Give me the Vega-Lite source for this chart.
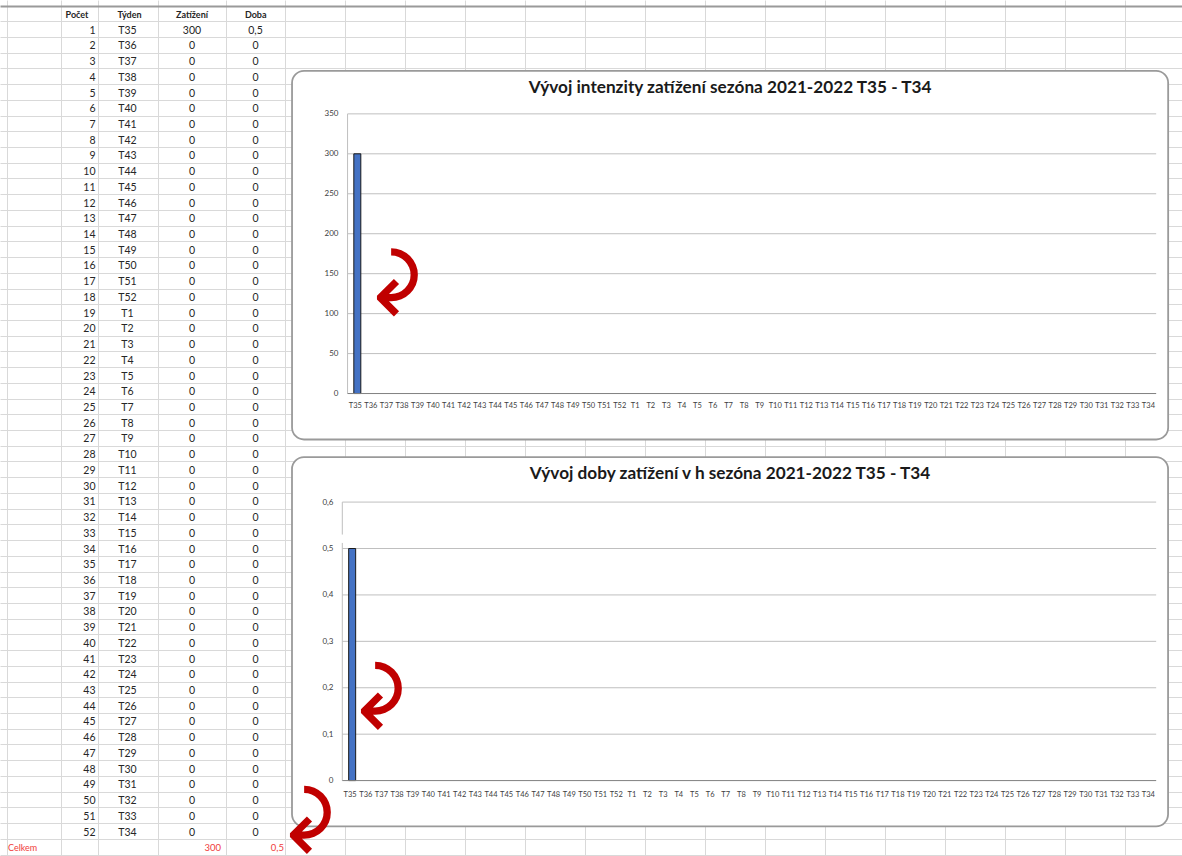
{
  "$schema": "https://vega.github.io/schema/vega-lite/v6.json",
  "width": 1182,
  "height": 856,
  "autosize": {"type": "fit", "contains": "padding"},
  "padding": 0,
  "background": "white",
  "config": {
    "view": {"stroke": null},
    "locale": {"number": {"decimal": ",", "thousands": " ", "grouping": [3], "currency": ["", " Kč"]}},
    "text": {"font": "Lato"}
  },
  "datasets": {
    "weeks": [
      {"i": 1, "tyden": "T35", "zat": 300, "doba": 0.5},
      {"i": 2, "tyden": "T36", "zat": 0, "doba": 0},
      {"i": 3, "tyden": "T37", "zat": 0, "doba": 0},
      {"i": 4, "tyden": "T38", "zat": 0, "doba": 0},
      {"i": 5, "tyden": "T39", "zat": 0, "doba": 0},
      {"i": 6, "tyden": "T40", "zat": 0, "doba": 0},
      {"i": 7, "tyden": "T41", "zat": 0, "doba": 0},
      {"i": 8, "tyden": "T42", "zat": 0, "doba": 0},
      {"i": 9, "tyden": "T43", "zat": 0, "doba": 0},
      {"i": 10, "tyden": "T44", "zat": 0, "doba": 0},
      {"i": 11, "tyden": "T45", "zat": 0, "doba": 0},
      {"i": 12, "tyden": "T46", "zat": 0, "doba": 0},
      {"i": 13, "tyden": "T47", "zat": 0, "doba": 0},
      {"i": 14, "tyden": "T48", "zat": 0, "doba": 0},
      {"i": 15, "tyden": "T49", "zat": 0, "doba": 0},
      {"i": 16, "tyden": "T50", "zat": 0, "doba": 0},
      {"i": 17, "tyden": "T51", "zat": 0, "doba": 0},
      {"i": 18, "tyden": "T52", "zat": 0, "doba": 0},
      {"i": 19, "tyden": "T1", "zat": 0, "doba": 0},
      {"i": 20, "tyden": "T2", "zat": 0, "doba": 0},
      {"i": 21, "tyden": "T3", "zat": 0, "doba": 0},
      {"i": 22, "tyden": "T4", "zat": 0, "doba": 0},
      {"i": 23, "tyden": "T5", "zat": 0, "doba": 0},
      {"i": 24, "tyden": "T6", "zat": 0, "doba": 0},
      {"i": 25, "tyden": "T7", "zat": 0, "doba": 0},
      {"i": 26, "tyden": "T8", "zat": 0, "doba": 0},
      {"i": 27, "tyden": "T9", "zat": 0, "doba": 0},
      {"i": 28, "tyden": "T10", "zat": 0, "doba": 0},
      {"i": 29, "tyden": "T11", "zat": 0, "doba": 0},
      {"i": 30, "tyden": "T12", "zat": 0, "doba": 0},
      {"i": 31, "tyden": "T13", "zat": 0, "doba": 0},
      {"i": 32, "tyden": "T14", "zat": 0, "doba": 0},
      {"i": 33, "tyden": "T15", "zat": 0, "doba": 0},
      {"i": 34, "tyden": "T16", "zat": 0, "doba": 0},
      {"i": 35, "tyden": "T17", "zat": 0, "doba": 0},
      {"i": 36, "tyden": "T18", "zat": 0, "doba": 0},
      {"i": 37, "tyden": "T19", "zat": 0, "doba": 0},
      {"i": 38, "tyden": "T20", "zat": 0, "doba": 0},
      {"i": 39, "tyden": "T21", "zat": 0, "doba": 0},
      {"i": 40, "tyden": "T22", "zat": 0, "doba": 0},
      {"i": 41, "tyden": "T23", "zat": 0, "doba": 0},
      {"i": 42, "tyden": "T24", "zat": 0, "doba": 0},
      {"i": 43, "tyden": "T25", "zat": 0, "doba": 0},
      {"i": 44, "tyden": "T26", "zat": 0, "doba": 0},
      {"i": 45, "tyden": "T27", "zat": 0, "doba": 0},
      {"i": 46, "tyden": "T28", "zat": 0, "doba": 0},
      {"i": 47, "tyden": "T29", "zat": 0, "doba": 0},
      {"i": 48, "tyden": "T30", "zat": 0, "doba": 0},
      {"i": 49, "tyden": "T31", "zat": 0, "doba": 0},
      {"i": 50, "tyden": "T32", "zat": 0, "doba": 0},
      {"i": 51, "tyden": "T33", "zat": 0, "doba": 0},
      {"i": 52, "tyden": "T34", "zat": 0, "doba": 0}
    ]
  },
  "data": {"name": "weeks"},
  "resolve": {"scale": {"x": "independent", "y": "independent"}, "axis": {"x": "independent", "y": "independent"}},
  "layer": [
    {
      "mark": {"type": "text", "align": "right", "baseline": "middle", "fontSize": 10.5, "color": "#262626"},
      "encoding": {
        "x": {"datum": 95.5, "scale": {"domain": [0, 1182], "nice": false, "zero": false},
          "axis": {"orient": "bottom", "values": [7, 61, 98, 158, 226, 285, 345, 405, 465, 525, 585, 645, 705, 765, 825, 885, 945, 1005, 1065, 1125], "grid": true, "gridColor": "#d9d9d9", "gridWidth": 1, "labels": false, "ticks": false, "domain": false, "title": null, "zindex": 0}},
        "y": {"field": "i", "type": "quantitative", "scale": {"domain": [-0.95, 53.43], "reverse": true, "nice": false, "zero": false},
          "axis": {"orient": "left", "values": [-0.6, 0.4, 1.4, 2.4, 3.4, 4.4, 5.4, 6.4, 7.4, 8.4, 9.4, 10.4, 11.4, 12.4, 13.4, 14.4, 15.4, 16.4, 17.4, 18.4, 19.4, 20.4, 21.4, 22.4, 23.4, 24.4, 25.4, 26.4, 27.4, 28.4, 29.4, 30.4, 31.4, 32.4, 33.4, 34.4, 35.4, 36.4, 37.4, 38.4, 39.4, 40.4, 41.4, 42.4, 43.4, 44.4, 45.4, 46.4, 47.4, 48.4, 49.4, 50.4, 51.4, 52.4, 53.4], "grid": true, "gridColor": {"condition": {"test": "datum.value < 0", "value": "#9a9a9a"}, "value": "#d9d9d9"}, "gridWidth": {"condition": {"test": "datum.value < 0", "value": 2}, "value": 1}, "labels": false, "ticks": false, "domain": false, "title": null, "zindex": 0}},
        "text": {"field": "i", "type": "quantitative"}
      }
    },
    {
      "mark": {"type": "text", "align": "center", "baseline": "middle", "fontSize": 10.5, "color": "#262626"},
      "encoding": {
        "x": {"datum": 127.5, "scale": {"domain": [0, 1182], "nice": false, "zero": false}, "axis": null},
        "y": {"field": "i", "type": "quantitative", "scale": {"domain": [-0.95, 53.43], "reverse": true, "nice": false, "zero": false}, "axis": null},
        "text": {"field": "tyden", "type": "nominal"}
      }
    },
    {
      "mark": {"type": "text", "align": "center", "baseline": "middle", "fontSize": 10.5, "color": "#262626"},
      "encoding": {
        "x": {"datum": 192, "scale": {"domain": [0, 1182], "nice": false, "zero": false}, "axis": null},
        "y": {"field": "i", "type": "quantitative", "scale": {"domain": [-0.95, 53.43], "reverse": true, "nice": false, "zero": false}, "axis": null},
        "text": {"field": "zat", "type": "quantitative"}
      }
    },
    {
      "mark": {"type": "text", "align": "center", "baseline": "middle", "fontSize": 10.5, "color": "#262626"},
      "encoding": {
        "x": {"datum": 255.5, "scale": {"domain": [0, 1182], "nice": false, "zero": false}, "axis": null},
        "y": {"field": "i", "type": "quantitative", "scale": {"domain": [-0.95, 53.43], "reverse": true, "nice": false, "zero": false}, "axis": null},
        "text": {"field": "doba", "type": "quantitative", "format": "~g"}
      }
    },
    {
      "data": {"values": [{}]},
      "mark": {"type": "text", "text": "Počet", "align": "center", "baseline": "middle", "fontSize": 9, "fontWeight": "bold", "color": "#262626"},
      "encoding": {
        "x": {"datum": 77, "scale": {"domain": [0, 1182], "nice": false, "zero": false}, "axis": null},
        "y": {"datum": 0, "scale": {"domain": [-0.95, 53.43], "reverse": true, "nice": false, "zero": false}, "axis": null}
      }
    },
    {
      "data": {"values": [{}]},
      "mark": {"type": "text", "text": "Týden", "align": "center", "baseline": "middle", "fontSize": 9, "fontWeight": "bold", "color": "#262626"},
      "encoding": {
        "x": {"datum": 129.5, "scale": {"domain": [0, 1182], "nice": false, "zero": false}, "axis": null},
        "y": {"datum": 0, "scale": {"domain": [-0.95, 53.43], "reverse": true, "nice": false, "zero": false}, "axis": null}
      }
    },
    {
      "data": {"values": [{}]},
      "mark": {"type": "text", "text": "Zatížení", "align": "center", "baseline": "middle", "fontSize": 9, "fontWeight": "bold", "color": "#262626"},
      "encoding": {
        "x": {"datum": 192, "scale": {"domain": [0, 1182], "nice": false, "zero": false}, "axis": null},
        "y": {"datum": 0, "scale": {"domain": [-0.95, 53.43], "reverse": true, "nice": false, "zero": false}, "axis": null}
      }
    },
    {
      "data": {"values": [{}]},
      "mark": {"type": "text", "text": "Doba", "align": "center", "baseline": "middle", "fontSize": 9, "fontWeight": "bold", "color": "#262626"},
      "encoding": {
        "x": {"datum": 255.7, "scale": {"domain": [0, 1182], "nice": false, "zero": false}, "axis": null},
        "y": {"datum": 0, "scale": {"domain": [-0.95, 53.43], "reverse": true, "nice": false, "zero": false}, "axis": null}
      }
    },
    {
      "data": {"values": [{}]},
      "mark": {"type": "text", "text": "Celkem", "align": "left", "baseline": "middle", "fontSize": 9, "color": "#f03c3c"},
      "encoding": {
        "x": {"datum": 8, "scale": {"domain": [0, 1182], "nice": false, "zero": false}, "axis": null},
        "y": {"datum": 53, "scale": {"domain": [-0.95, 53.43], "reverse": true, "nice": false, "zero": false}, "axis": null}
      }
    },
    {
      "transform": [{"aggregate": [{"op": "sum", "field": "zat", "as": "sz"}]}],
      "mark": {"type": "text", "align": "right", "baseline": "middle", "fontSize": 9.5, "color": "#f03c3c"},
      "encoding": {
        "x": {"datum": 221, "scale": {"domain": [0, 1182], "nice": false, "zero": false}, "axis": null},
        "y": {"datum": 53, "scale": {"domain": [-0.95, 53.43], "reverse": true, "nice": false, "zero": false}, "axis": null},
        "text": {"field": "sz", "type": "quantitative", "format": "d"}
      }
    },
    {
      "transform": [{"aggregate": [{"op": "sum", "field": "doba", "as": "sd"}]}],
      "mark": {"type": "text", "align": "right", "baseline": "middle", "fontSize": 9.5, "color": "#f03c3c"},
      "encoding": {
        "x": {"datum": 284, "scale": {"domain": [0, 1182], "nice": false, "zero": false}, "axis": null},
        "y": {"datum": 53, "scale": {"domain": [-0.95, 53.43], "reverse": true, "nice": false, "zero": false}, "axis": null},
        "text": {"field": "sd", "type": "quantitative", "format": "~g"}
      }
    },
    {
      "data": {"values": [{}]},
      "mark": {"type": "rect", "fill": "white", "stroke": "#9a9a9a", "strokeWidth": 1.8, "cornerRadius": 12},
      "encoding": {
        "x": {"datum": -3.07, "scale": {"domain": [-21.85, 54.16], "nice": false, "zero": false}, "axis": null},
        "x2": {"datum": 53.27},
        "y": {"datum": 403.75, "scale": {"domain": [-577.5, 492.5], "nice": false, "zero": false}, "axis": null},
        "y2": {"datum": -57.5}
      }
    },
    {
      "data": {"values": [{"v": 50}, {"v": 100}, {"v": 150}, {"v": 200}, {"v": 250}, {"v": 300}, {"v": 350}]},
      "mark": {"type": "rule", "color": "#bfbfbf", "strokeWidth": 1},
      "encoding": {
        "x": {"datum": 0.5, "scale": {"domain": [-21.85, 54.16], "nice": false, "zero": false}, "axis": null},
        "x2": {"datum": 52.5},
        "y": {"field": "v", "type": "quantitative", "scale": {"domain": [-577.5, 492.5], "nice": false, "zero": false},
          "axis": {"orient": "left", "offset": -338, "values": [0, 50, 100, 150, 200, 250, 300, 350], "format": "d", "labelFontSize": 8, "labelColor": "#404040", "labelFont": "Lato", "ticks": false, "domain": false, "grid": false, "labelPadding": 0, "title": null, "zindex": 2, "labelBaseline": "middle"}}
      }
    },
    {
      "data": {"values": [{}]},
      "mark": {"type": "rule", "color": "#bfbfbf", "strokeWidth": 1},
      "encoding": {
        "x": {"datum": 0.5, "scale": {"domain": [-21.85, 54.16], "nice": false, "zero": false}, "axis": null},
        "y": {"datum": 0, "scale": {"domain": [-577.5, 492.5], "nice": false, "zero": false}, "axis": null},
        "y2": {"datum": 350}
      }
    },
    {
      "transform": [{"filter": "datum.zat > 0"}],
      "mark": {"type": "bar", "orient": "vertical", "width": 7, "fill": "#4472c4", "stroke": "#1a1a1a", "strokeWidth": 1},
      "encoding": {
        "x": {"field": "i", "type": "quantitative", "scale": {"domain": [-21.85, 54.16], "nice": false, "zero": false}, "axis": null},
        "y": {"field": "zat", "type": "quantitative", "scale": {"domain": [-577.5, 492.5], "nice": false, "zero": false}, "axis": null},
        "y2": {"datum": 0}
      }
    },
    {
      "data": {"values": [{}]},
      "mark": {"type": "rule", "color": "#808080", "strokeWidth": 1},
      "encoding": {
        "x": {"datum": 0.5, "scale": {"domain": [-21.85, 54.16], "nice": false, "zero": false}, "axis": null},
        "x2": {"datum": 52.5},
        "y": {"datum": 0, "scale": {"domain": [-577.5, 492.5], "nice": false, "zero": false}, "axis": null}
      }
    },
    {
      "mark": {"type": "text", "align": "center", "baseline": "middle", "fontSize": 7.5, "color": "#404040"},
      "encoding": {
        "x": {"field": "i", "type": "quantitative", "scale": {"domain": [-21.85, 54.16], "nice": false, "zero": false}, "axis": null},
        "y": {"datum": -15.8, "scale": {"domain": [-577.5, 492.5], "nice": false, "zero": false}, "axis": null},
        "text": {"field": "tyden", "type": "nominal"}
      }
    },
    {
      "data": {"values": [{}]},
      "mark": {"type": "text", "text": "Vývoj intenzity zatížení sezóna 2021-2022 T35 - T34", "align": "center", "baseline": "middle", "fontSize": 17.2, "fontWeight": "bold", "color": "#1a1a1a"},
      "encoding": {
        "x": {"datum": 25.1, "scale": {"domain": [-21.85, 54.16], "nice": false, "zero": false}, "axis": null},
        "y": {"datum": 382.1, "scale": {"domain": [-577.5, 492.5], "nice": false, "zero": false}, "axis": null}
      }
    },
    {
      "data": {"values": [{}]},
      "mark": {"type": "text", "text": "↷", "font": "DejaVu Sans", "align": "center", "baseline": "middle", "fontSize": 88, "angle": 90, "color": "#c00000"},
      "encoding": {
        "x": {"datum": 2.9, "scale": {"domain": [-21.85, 54.16], "nice": false, "zero": false}, "axis": null},
        "y": {"datum": 140, "scale": {"domain": [-577.5, 492.5], "nice": false, "zero": false}, "axis": null}
      }
    },
    {
      "data": {"values": [{}]},
      "mark": {"type": "rect", "fill": "white", "stroke": "#9a9a9a", "strokeWidth": 1.8, "cornerRadius": 12},
      "encoding": {
        "x": {"datum": -2.714, "scale": {"domain": [-21.37, 54.15], "nice": false, "zero": false}, "axis": null},
        "x2": {"datum": 53.26},
        "y": {"datum": 0.6967, "scale": {"domain": [-0.1603, 1.6817], "nice": false, "zero": false}, "axis": null},
        "y2": {"datum": -0.0986}
      }
    },
    {
      "data": {"values": [{"v": 0.1}, {"v": 0.2}, {"v": 0.3}, {"v": 0.4}, {"v": 0.5}, {"v": 0.6}]},
      "mark": {"type": "rule", "color": "#bfbfbf", "strokeWidth": 1},
      "encoding": {
        "x": {"datum": 0.5, "scale": {"domain": [-21.37, 54.15], "nice": false, "zero": false}, "axis": null},
        "x2": {"datum": 52.5},
        "y": {"field": "v", "type": "quantitative", "scale": {"domain": [-0.1603, 1.6817], "nice": false, "zero": false},
          "axis": {"orient": "left", "offset": -333, "values": [0, 0.1, 0.2, 0.3, 0.4, 0.5, 0.6], "format": "~g", "labelFontSize": 8, "labelColor": "#404040", "labelFont": "Lato", "ticks": false, "domain": false, "grid": false, "labelPadding": 0, "title": null, "zindex": 2, "labelBaseline": "middle"}}
      }
    },
    {
      "data": {"values": [{}]},
      "mark": {"type": "rule", "color": "#bfbfbf", "strokeWidth": 1},
      "encoding": {
        "x": {"datum": 0.5, "scale": {"domain": [-21.37, 54.15], "nice": false, "zero": false}, "axis": null},
        "y": {"datum": 0, "scale": {"domain": [-0.1603, 1.6817], "nice": false, "zero": false}, "axis": null},
        "y2": {"datum": 0.512}
      }
    },
    {
      "data": {"values": [{}]},
      "mark": {"type": "rule", "color": "#bfbfbf", "strokeWidth": 1},
      "encoding": {
        "x": {"datum": 0.5, "scale": {"domain": [-21.37, 54.15], "nice": false, "zero": false}, "axis": null},
        "y": {"datum": 0.53, "scale": {"domain": [-0.1603, 1.6817], "nice": false, "zero": false}, "axis": null},
        "y2": {"datum": 0.6}
      }
    },
    {
      "transform": [{"filter": "datum.doba > 0"}],
      "mark": {"type": "bar", "orient": "vertical", "width": 7, "fill": "#4472c4", "stroke": "#1a1a1a", "strokeWidth": 1},
      "encoding": {
        "x": {"field": "i", "type": "quantitative", "scale": {"domain": [-21.37, 54.15], "nice": false, "zero": false}, "axis": null},
        "y": {"field": "doba", "type": "quantitative", "scale": {"domain": [-0.1603, 1.6817], "nice": false, "zero": false}, "axis": null},
        "y2": {"datum": 0}
      }
    },
    {
      "data": {"values": [{}]},
      "mark": {"type": "rule", "color": "#808080", "strokeWidth": 1},
      "encoding": {
        "x": {"datum": 0.5, "scale": {"domain": [-21.37, 54.15], "nice": false, "zero": false}, "axis": null},
        "x2": {"datum": 52.5},
        "y": {"datum": 0, "scale": {"domain": [-0.1603, 1.6817], "nice": false, "zero": false}, "axis": null}
      }
    },
    {
      "mark": {"type": "text", "align": "center", "baseline": "middle", "fontSize": 7.5, "color": "#404040"},
      "encoding": {
        "x": {"field": "i", "type": "quantitative", "scale": {"domain": [-21.37, 54.15], "nice": false, "zero": false}, "axis": null},
        "y": {"datum": -0.0312, "scale": {"domain": [-0.1603, 1.6817], "nice": false, "zero": false}, "axis": null},
        "text": {"field": "tyden", "type": "nominal"}
      }
    },
    {
      "data": {"values": [{}]},
      "mark": {"type": "text", "text": "Vývoj doby zatížení v h sezóna 2021-2022 T35 - T34", "align": "center", "baseline": "middle", "fontSize": 17.2, "fontWeight": "bold", "color": "#1a1a1a"},
      "encoding": {
        "x": {"datum": 25.27, "scale": {"domain": [-21.37, 54.15], "nice": false, "zero": false}, "axis": null},
        "y": {"datum": 0.6596, "scale": {"domain": [-0.1603, 1.6817], "nice": false, "zero": false}, "axis": null}
      }
    },
    {
      "data": {"values": [{}]},
      "mark": {"type": "text", "text": "↷", "font": "DejaVu Sans", "align": "center", "baseline": "middle", "fontSize": 88, "angle": 90, "color": "#c00000"},
      "encoding": {
        "x": {"datum": 2.2, "scale": {"domain": [-21.37, 54.15], "nice": false, "zero": false}, "axis": null},
        "y": {"datum": 0.184, "scale": {"domain": [-0.1603, 1.6817], "nice": false, "zero": false}, "axis": null}
      }
    },
    {
      "data": {"values": [{}]},
      "mark": {"type": "text", "text": "↷", "font": "DejaVu Sans", "align": "center", "baseline": "middle", "fontSize": 88, "angle": 90, "color": "#c00000"},
      "encoding": {
        "x": {"datum": -2.3, "scale": {"domain": [-21.37, 54.15], "nice": false, "zero": false}, "axis": null},
        "y": {"datum": -0.0829, "scale": {"domain": [-0.1603, 1.6817], "nice": false, "zero": false}, "axis": null}
      }
    }
  ]
}
